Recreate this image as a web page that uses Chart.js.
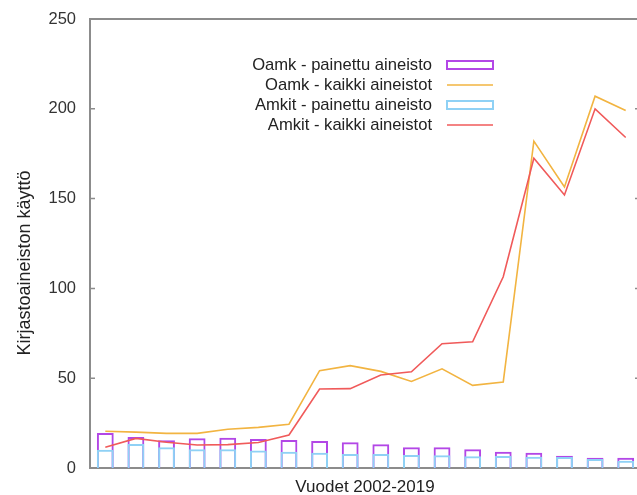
<!DOCTYPE html>
<html>
<head>
<meta charset="utf-8">
<script src="https://cdn.jsdelivr.net/npm/chart.js@4.4.1/dist/chart.umd.min.js"></script>
<style>
html, body { margin: 0; padding: 0; overflow: hidden; background: #fff; }
#wrap { width: 645px; height: 495px; }
</style>
</head>
<body>
<div id="wrap"><canvas id="chart"></canvas></div>
<script>
var years = ["2002", "2003", "2004", "2005", "2006", "2007", "2008", "2009", "2010",
             "2011", "2012", "2013", "2014", "2015", "2016", "2017", "2018", "2019"];
var oamkPrinted = [19.5, 17.3, 15.4, 16.5, 16.8, 16.2, 15.6, 15.0, 14.3, 13.2, 11.5, 11.5, 10.4, 9.1, 8.5, 6.8, 5.7, 5.7];
var oamkAll = [20.5, 20.0, 19.3, 19.3, 21.6, 22.6, 24.4, 54.2, 57.0, 53.8, 48.2, 55.2, 46.0, 47.9, 182, 156.5, 207, 199];
var amkitPrinted = [10.2, 13.4, 11.5, 10.5, 10.4, 9.7, 9.0, 8.5, 7.8, 7.8, 7.2, 7.1, 6.6, 6.7, 6.3, 6.1, 5.0, 4.0];
var amkitAll = [11.5, 16.5, 14.3, 12.8, 13.0, 14.2, 18.4, 44.0, 44.2, 51.8, 53.6, 69.2, 70.3, 106.5, 172.5, 152, 200, 184];
var yTicks = [0, 50, 100, 150, 200, 250];

var axisGray = '#8c8c8c';
var fontFam = '"Liberation Sans", Arial, sans-serif';

// frame: top/right border + small inward ticks on both sides
var framePlugin = {
    id: 'frame',
    afterDraw: function (chart) {
        var ctx = chart.ctx, a = chart.chartArea, y = chart.scales.y;
        ctx.save();
        ctx.strokeStyle = axisGray;
        ctx.lineWidth = 2;
        ctx.beginPath();
        ctx.moveTo(a.left, a.top);
        ctx.lineTo(a.right, a.top);
        ctx.lineTo(a.right, a.bottom);
        ctx.stroke();
        ctx.lineWidth = 1.5;
        yTicks.forEach(function (t) {
            var py = y.getPixelForValue(t);
            ctx.beginPath();
            ctx.moveTo(a.left, py);
            ctx.lineTo(a.left + 5, py);
            ctx.moveTo(a.right, py);
            ctx.lineTo(a.right - 6, py);
            ctx.stroke();
        });
        ctx.restore();
    }
};

// titles + legend (text right aligned, key on the right)
var textPlugin = {
    id: 'texts',
    afterDraw: function (chart) {
        var ctx = chart.ctx;
        ctx.save();
        ctx.fillStyle = '#222';
        ctx.textAlign = 'center';
        ctx.textBaseline = 'middle';
        ctx.font = '17px ' + fontFam;
        ctx.fillText('Vuodet 2002-2019', 365, 487);
        ctx.translate(25, 263);
        ctx.rotate(-Math.PI / 2);
        ctx.font = '18px ' + fontFam;
        ctx.fillText('Kirjastoaineiston käyttö', 0, 0);
        ctx.restore();

        ctx.save();
        ctx.font = '16.6px ' + fontFam;
        ctx.textAlign = 'right';
        ctx.textBaseline = 'middle';
        chart.data.datasets.forEach(function (ds, i) {
            var ly = 65 + i * 20;
            ctx.fillStyle = '#222';
            ctx.fillText(ds.label, 432, ly);
            ctx.strokeStyle = ds.borderColor;
            if (ds.type === 'line') {
                ctx.lineWidth = 1.5;
                ctx.beginPath();
                ctx.moveTo(447, ly);
                ctx.lineTo(493, ly);
                ctx.stroke();
            } else {
                ctx.lineWidth = 2;
                ctx.strokeRect(447, ly - 4, 46, 8);
            }
        });
        ctx.restore();
    }
};

new Chart(document.getElementById('chart'), {
    type: 'bar',
    data: {
        labels: years,
        datasets: [
            {
                type: 'bar',
                label: 'Oamk - painettu aineisto',
                data: oamkPrinted,
                borderColor: '#b347e6',
                backgroundColor: 'rgba(0,0,0,0)',
                borderWidth: 2,
                grouped: false,
                barPercentage: 0.55,
                categoryPercentage: 1,
                order: 3
            },
            {
                type: 'line',
                label: 'Oamk - kaikki aineistot',
                data: oamkAll,
                borderColor: '#f2b441',
                borderWidth: 1.6,
                pointRadius: 0,
                fill: false,
                tension: 0,
                order: 1
            },
            {
                type: 'bar',
                label: 'Amkit - painettu aineisto',
                data: amkitPrinted,
                borderColor: '#8fd1f5',
                backgroundColor: 'rgba(0,0,0,0)',
                borderWidth: 2,
                grouped: false,
                barPercentage: 0.55,
                categoryPercentage: 1,
                order: 2
            },
            {
                type: 'line',
                label: 'Amkit - kaikki aineistot',
                data: amkitAll,
                borderColor: '#f05a5a',
                borderWidth: 1.6,
                pointRadius: 0,
                fill: false,
                tension: 0,
                order: 0
            }
        ]
    },
    options: {
        responsive: true,
        maintainAspectRatio: false,
        animation: false,
        layout: { padding: { left: 0, right: 4, top: 19, bottom: 0 } },
        plugins: {
            legend: { display: false },
            tooltip: { enabled: false }
        },
        scales: {
            x: {
                grid: { display: false, drawTicks: false },
                ticks: { display: false },
                border: { color: axisGray, width: 2 },
                afterFit: function (s) { s.height = 27; }
            },
            y: {
                min: 0,
                max: 250,
                ticks: { stepSize: 50, padding: 14, color: '#333', font: { family: fontFam, size: 16.5 } },
                grid: { display: false, drawTicks: false },
                border: { color: axisGray, width: 2 },
                afterFit: function (s) {
                    s.width = 90;
                    s.paddingTop = 0;
                    s.paddingBottom = 0;
                }
            }
        }
    },
    plugins: [framePlugin, textPlugin]
});
</script>
</body>
</html>
